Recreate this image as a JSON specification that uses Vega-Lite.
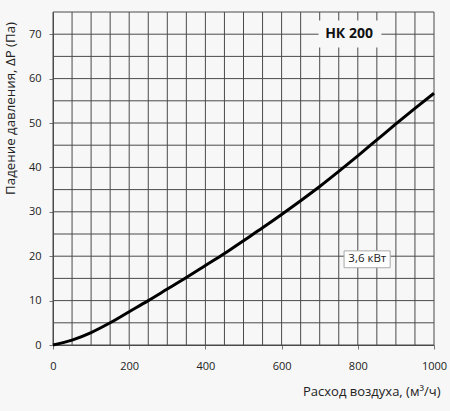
{
  "$schema": "https://vega.github.io/schema/vega-lite/v6.json",
  "width": 381,
  "height": 333,
  "autosize": "none",
  "padding": {"left": 53, "top": 12, "right": 16, "bottom": 66},
  "background": "#f7f7f7",
  "config": {"view": {"stroke": null}, "font": "Open Sans"},
  "datasets": {
    "curve": [
      {"flow": 0, "dp": 0},
      {"flow": 50, "dp": 1.1},
      {"flow": 100, "dp": 2.8},
      {"flow": 150, "dp": 5.0},
      {"flow": 200, "dp": 7.5},
      {"flow": 250, "dp": 10.0},
      {"flow": 300, "dp": 12.6},
      {"flow": 350, "dp": 15.2},
      {"flow": 400, "dp": 17.9},
      {"flow": 450, "dp": 20.6},
      {"flow": 500, "dp": 23.5},
      {"flow": 550, "dp": 26.4},
      {"flow": 600, "dp": 29.4},
      {"flow": 650, "dp": 32.5},
      {"flow": 700, "dp": 35.7},
      {"flow": 750, "dp": 39.1},
      {"flow": 800, "dp": 42.6},
      {"flow": 850, "dp": 46.2},
      {"flow": 900, "dp": 49.8},
      {"flow": 950, "dp": 53.3},
      {"flow": 1000, "dp": 56.7}
    ],
    "gridx": [
      {"gx": 0}, {"gx": 50}, {"gx": 100}, {"gx": 150}, {"gx": 200}, {"gx": 250}, {"gx": 300},
      {"gx": 350}, {"gx": 400}, {"gx": 450}, {"gx": 500}, {"gx": 550}, {"gx": 600}, {"gx": 650},
      {"gx": 700}, {"gx": 750}, {"gx": 800}, {"gx": 850}, {"gx": 900}, {"gx": 950}, {"gx": 1000}
    ],
    "gridy": [
      {"gy": 0}, {"gy": 5}, {"gy": 10}, {"gy": 15}, {"gy": 20}, {"gy": 25}, {"gy": 30}, {"gy": 35},
      {"gy": 40}, {"gy": 45}, {"gy": 50}, {"gy": 55}, {"gy": 60}, {"gy": 65}, {"gy": 70}, {"gy": 75}
    ],
    "model": [{"label": "НК 200"}],
    "power": [{"label": "3,6 кВт"}]
  },
  "layer": [
    {
      "data": {"name": "gridx"},
      "mark": {"type": "rule", "color": "#4a4a4a", "strokeWidth": 1},
      "encoding": {
        "x": {
          "field": "gx",
          "type": "quantitative",
          "scale": {"domain": [0, 1000], "nice": false, "zero": true},
          "axis": {
            "values": [0, 200, 400, 600, 800, 1000],
            "format": "d",
            "grid": false,
            "domainColor": "#4a4a4a",
            "tickColor": "#777777",
            "tickSize": 4,
            "labelFontSize": 11,
            "labelColor": "#222222",
            "labelPadding": 11,
            "labelFlush": false,
            "title": "Расход воздуха, (м³/ч)",
            "titleFontSize": 13,
            "titleFontWeight": "normal",
            "titleColor": "#222222",
            "titleAnchor": "end",
            "titleAlign": "right",
            "titleBaseline": "alphabetic",
            "titleX": 387,
            "titleY": 50
          }
        }
      }
    },
    {
      "data": {"name": "gridy"},
      "mark": {"type": "rule", "color": "#4a4a4a", "strokeWidth": 1},
      "encoding": {
        "y": {
          "field": "gy",
          "type": "quantitative",
          "scale": {"domain": [0, 75], "nice": false},
          "axis": {
            "values": [0, 10, 20, 30, 40, 50, 60, 70],
            "format": "d",
            "grid": false,
            "domainColor": "#4a4a4a",
            "tickColor": "#777777",
            "tickSize": 4,
            "labelFontSize": 11,
            "labelColor": "#222222",
            "labelPadding": 8,
            "title": "Падение давления, ΔP (Па)",
            "titleFontSize": 13.3,
            "titleFontWeight": "normal",
            "titleColor": "#222222",
            "titleAngle": -90,
            "titleAlign": "right",
            "titleBaseline": "middle",
            "titleX": -43,
            "titleY": 9.5
          }
        }
      }
    },
    {
      "data": {"name": "model"},
      "mark": {"type": "rect", "fill": "#f7f7f7", "strokeWidth": 0},
      "encoding": {
        "x": {"datum": 697, "type": "quantitative"},
        "x2": {"datum": 862},
        "y": {"datum": 67.0, "type": "quantitative"},
        "y2": {"datum": 73.1}
      }
    },
    {
      "data": {"name": "model"},
      "mark": {"type": "text", "fontSize": 14, "fontWeight": "bold", "color": "#111111", "align": "center", "baseline": "middle"},
      "encoding": {
        "x": {"datum": 777, "type": "quantitative"},
        "y": {"datum": 70, "type": "quantitative"},
        "text": {"field": "label"}
      }
    },
    {
      "data": {"name": "curve"},
      "mark": {"type": "line", "color": "#000000", "strokeWidth": 3, "interpolate": "monotone"},
      "encoding": {
        "x": {"field": "flow", "type": "quantitative"},
        "y": {"field": "dp", "type": "quantitative"}
      }
    },
    {
      "data": {"name": "power"},
      "mark": {"type": "rect", "fill": "#ffffff", "stroke": "#aaaaaa", "strokeWidth": 1},
      "encoding": {
        "x": {"datum": 764, "type": "quantitative"},
        "x2": {"datum": 885},
        "y": {"datum": 17.4, "type": "quantitative"},
        "y2": {"datum": 21.2}
      }
    },
    {
      "data": {"name": "power"},
      "mark": {"type": "text", "fontSize": 11.5, "color": "#222222", "align": "center", "baseline": "middle"},
      "encoding": {
        "x": {"datum": 825, "type": "quantitative"},
        "y": {"datum": 19.3, "type": "quantitative"},
        "text": {"field": "label"}
      }
    }
  ]
}
